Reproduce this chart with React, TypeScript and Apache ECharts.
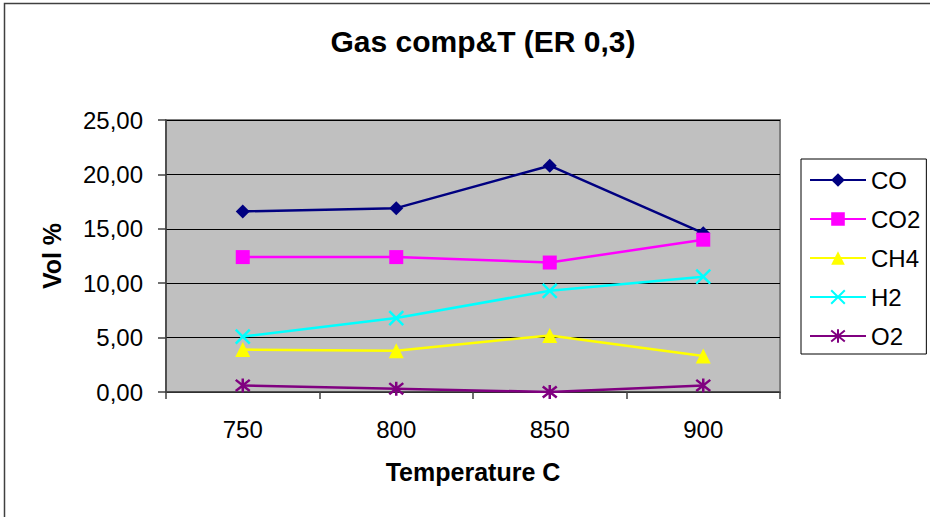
import React, { useEffect, useRef } from "react";
import * as echarts from "echarts";

const categories = ["750", "800", "850", "900"];
const seriesNames = ["CO", "CO2", "CH4", "H2", "O2"];
const coValues = [16.6, 16.9, 20.8, 14.6];
const co2Values = [12.4, 12.4, 11.9, 14.0];
const ch4Values = [3.9, 3.8, 5.2, 3.3];
const h2Values = [5.1, 6.8, 9.3, 10.6];
const o2Values = [0.6, 0.3, 0.0, 0.6];
const yTicks = { min: 0, max: 25, interval: 5 };

const FONT = "'Liberation Sans', Arial, sans-serif";

export default function App() {
  const ref = useRef<HTMLDivElement>(null);
  useEffect(() => {
    if (!ref.current) return;
    const chart = echarts.init(ref.current, null, { renderer: "svg" });
    const colors = ["#000080", "#FF00FF", "#FFFF00", "#00FFFF", "#800080"];
    const symbols = [
      "diamond",
      "rect",
      "triangle",
      "path://M0,0L10,10M10,0L0,10",
      "path://M5,0L5,10M0,1L10,9M10,1L0,9",
    ];
    const sizes = [14, 14, 15, 14, 14];
    const datas = [coValues, co2Values, ch4Values, h2Values, o2Values];
    const series = seriesNames.map((name, i) => {
      const isPath = i >= 3;
      return {
        name,
        type: "line",
        data: datas[i],
        symbol: symbols[i],
        symbolSize: sizes[i],
        showAllSymbol: true,
        color: colors[i],
        lineStyle: { color: colors[i], width: 2.5 },
        itemStyle: isPath
          ? { color: "none", borderColor: colors[i], borderWidth: 2.5 }
          : { color: colors[i], borderWidth: 0 },
        emphasis: { disabled: true },
      };
    });
    chart.setOption({
      animation: false,
      textStyle: { fontFamily: FONT },
      title: {
        text: "Gas comp&T (ER 0,3)",
        left: 478,
        textAlign: "center",
        top: 21,
        textStyle: { fontFamily: FONT, fontSize: 30, fontWeight: "bold", color: "#000" },
      },
      graphic: [
        {
          type: "rect",
          shape: { x: 4.5, y: 3.5, width: 1000, height: 1000 },
          style: { fill: "none", stroke: "#404040", lineWidth: 1.5 },
          silent: true,
        },
      ],
      legend: {
        orient: "vertical",
        left: 801,
        top: 159,
        padding: [9, 6, 6, 8],
        itemGap: 15,
        itemWidth: 56,
        itemHeight: 17,
        borderColor: "#000",
        borderWidth: 1,
        backgroundColor: "#fff",
        textStyle: { fontFamily: FONT, fontSize: 24, color: "#000", lineHeight: 24 },
        data: seriesNames,
      },
      grid: {
        left: 166,
        top: 120,
        right: 150,
        bottom: 125,
        show: true,
        backgroundColor: "#C0C0C0",
        borderColor: "#808080",
        borderWidth: 2,
      },
      xAxis: {
        type: "category",
        data: categories,
        boundaryGap: true,
        name: "Temperature C",
        nameLocation: "middle",
        nameGap: 67,
        nameTextStyle: { fontFamily: FONT, fontSize: 25, fontWeight: "bold", color: "#000" },
        axisLine: { lineStyle: { color: "#404040", width: 1.5 } },
        axisTick: { show: true, length: 7, lineStyle: { color: "#404040", width: 1.5 } },
        axisLabel: { fontFamily: FONT, fontSize: 24, color: "#000", margin: 25 },
        splitLine: { show: false },
      },
      yAxis: {
        type: "value",
        min: yTicks.min,
        max: yTicks.max,
        interval: yTicks.interval,
        name: "Vol %",
        nameLocation: "middle",
        nameRotate: 90,
        nameGap: 102,
        nameTextStyle: { fontFamily: FONT, fontSize: 25, fontWeight: "bold", color: "#000" },
        axisLine: { show: true, lineStyle: { color: "#404040", width: 1.5 } },
        axisTick: { show: true, length: 8, lineStyle: { color: "#404040", width: 1.5 } },
        axisLabel: {
          fontFamily: FONT,
          fontSize: 24,
          color: "#000",
          margin: 23,
          formatter: (v: number) => v.toFixed(2).replace(".", ","),
        },
        splitLine: { show: true, lineStyle: { color: "#000", width: 1 } },
      },
      series,
    });
    return () => chart.dispose();
  }, []);
  return (
    <div
      ref={ref}
      style={{ position: "absolute", left: 0, top: 0, width: 930, height: 517, background: "#fff" }}
    />
  );
}
